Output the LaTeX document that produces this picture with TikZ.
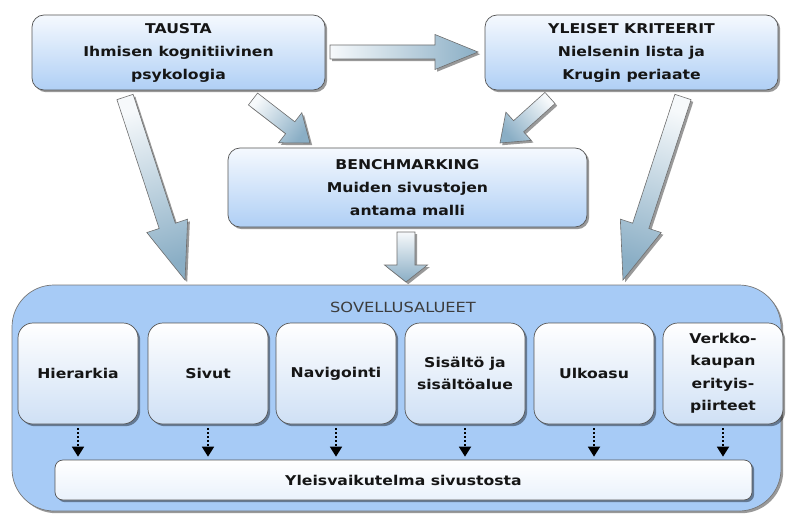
\documentclass[tikz,border=0pt]{standalone}
\usepackage{fontspec}
\setmainfont{DejaVu Sans}[FakeStretch=1.16]
\usetikzlibrary{calc,shadows,arrows.meta}
\definecolor{boxtop}{HTML}{F5F9FE}
\definecolor{boxbot}{HTML}{AFCFF5}
\definecolor{innerbot}{HTML}{CFE0F5}
\definecolor{contfill}{HTML}{A7CBF6}
\definecolor{bordergray}{HTML}{555555}
\definecolor{textc}{HTML}{151515}
\definecolor{arrstart}{HTML}{F6F9FB}
\definecolor{arrend}{HTML}{8AAEC5}
\definecolor{arrborder}{HTML}{6E6E6E}
\definecolor{titlec}{HTML}{3C3C3C}
\tikzset{
  shad/.style={drop shadow={shadow xshift=2.2pt, shadow yshift=-2.2pt, opacity=0.4, fill=black}},
  topbox/.style={draw=bordergray, line width=0.7pt, rounded corners=12pt,
    top color=boxtop, bottom color=boxbot, shad, align=center, text=textc,
    inner sep=0pt, font=\bfseries\fontsize{13.5}{23}\selectfont},
  innerbox/.style={draw=bordergray, line width=0.7pt, rounded corners=15pt,
    top color=white, bottom color=innerbot, shad, align=center, text=textc,
    inner sep=0pt, minimum width=120pt, minimum height=101pt,
    font=\bfseries\fontsize{13.5}{22.5}\selectfont},
  container/.style={draw=bordergray!80, line width=0.7pt, rounded corners=42pt,
    fill=contfill, shad, inner sep=0pt},
  sumbox/.style={draw=bordergray, line width=0.7pt, rounded corners=8pt,
    top color=white, bottom color=boxtop!70!innerbot, shad, text=textc,
    inner sep=0pt, font=\bfseries\fontsize{13.5}{22.5}\selectfont},
  barrow/.style={draw=arrborder, line width=0.6pt, top color=arrstart,
    bottom color=arrend, shad},
  dotarrow/.style={black, line width=1.8pt, dash pattern=on 1.8pt off 2.2pt,
    -{Triangle[width=12pt,length=10pt]}},
}
% #1 start, #2 end, #3 shaft half width, #4 head half width, #5 head length, #6 shading angle
\newcommand{\blockarrow}[6]{%
  \coordinate (ba-h) at ($(#2)!#5!(#1)$);
  \path[barrow, shading angle=#6]
    ($(#1)!#3!90:(#2)$) -- ($(ba-h)!#3!90:(#2)$) -- ($(ba-h)!#4!90:(#2)$)
    -- (#2) -- ($(ba-h)!#4!-90:(#2)$) -- ($(ba-h)!#3!-90:(#2)$)
    -- ($(#1)!#3!-90:(#2)$) -- cycle;
}
\begin{document}
\begin{tikzpicture}[x=1pt,y=-1pt]
\useasboundingbox (0,0) rectangle (787,516);
% top boxes
\node[topbox, minimum width=293pt, minimum height=75pt] (tausta) at (178.5,52.5)
  {TAUSTA\\Ihmisen kognitiivinen\\psykologia};
\node[topbox, minimum width=293pt, minimum height=75pt] (yleiset) at (631.5,52.5)
  {YLEISET KRITEERIT\\Nielsenin lista ja\\Krugin periaate};
\node[topbox, minimum width=359pt, minimum height=79pt] (bench) at (407.5,187.5)
  {BENCHMARKING\\Muiden sivustojen\\antama malli};
% container
\node[container, minimum width=769pt, minimum height=226pt] (sov) at (396.5,398) {};
\node[text=titlec, font=\fontsize{14}{16}\selectfont, inner sep=0pt] (sovt) at (403,307) {SOVELLUSALUEET};
% inner boxes
\node[innerbox] (hier) at (78,373.5) {Hierarkia};
\node[innerbox] (sivut) at (208,373.5) {Sivut};
\node[innerbox] (navi) at (336,373.5) {Navigointi};
\node[innerbox] (sisalto) at (465,373.5) {Sisältö ja\\sisältöalue};
\node[innerbox] (ulko) at (594,373.5) {Ulkoasu};
\node[innerbox] (verkko) at (723,373.5) {Verkko-\\kaupan\\erityis-\\piirteet};
\node[sumbox, minimum width=697pt, minimum height=40pt] (yleis) at (403.5,480)
  {Yleisvaikutelma sivustosta};
% dotted arrows
\foreach \n in {hier,sivut,navi,sisalto,ulko,verkko}{
  \draw[dotarrow] ([yshift=-4pt]\n.south) -- ([yshift=3pt]\n.south |- yleis.north);
}
% block arrow end points
\coordinate (a1s) at (330,52);  \coordinate (a1e) at (478,52);
\coordinate (a2s) at (253,99);  \coordinate (a2e) at (310,143);
\coordinate (a3s) at (550,98);  \coordinate (a3e) at (500,143);
\coordinate (a4s) at (125,97);  \coordinate (a4e) at (185,280);
\coordinate (a5s) at (683,97);  \coordinate (a5e) at (623,280);
\coordinate (a6s) at (406,232); \coordinate (a6e) at (406,282);
\blockarrow{a1s}{a1e}{7pt}{17.5pt}{43pt}{90}
\blockarrow{a2s}{a2e}{7.5pt}{19pt}{25pt}{52}
\blockarrow{a3s}{a3e}{7.5pt}{19pt}{25pt}{-48}
\blockarrow{a4s}{a4e}{8.5pt}{21.5pt}{57pt}{18}
\blockarrow{a5s}{a5e}{8.5pt}{21.5pt}{57pt}{-18}
\blockarrow{a6s}{a6e}{9pt}{21.5pt}{17pt}{0}
\end{tikzpicture}
\end{document}
